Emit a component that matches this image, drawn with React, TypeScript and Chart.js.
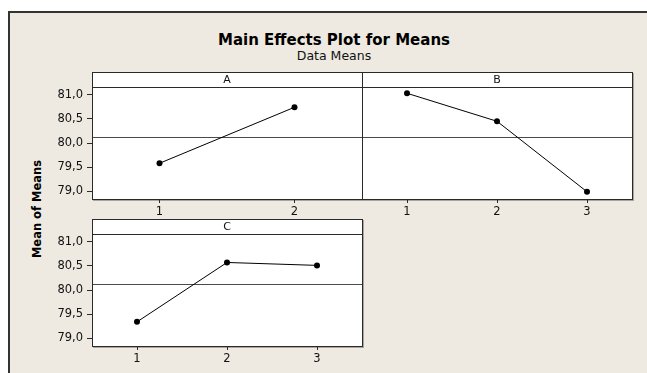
import React, { useEffect, useRef } from 'react';
import { Chart, registerables } from 'chart.js';

Chart.register(...registerables);

// ---------- data ----------
const levelsA = ['1', '2'];
const meansA = [79.58, 80.74];
const levelsB = ['1', '2', '3'];
const meansB = [81.03, 80.45, 78.99];
const levelsC = ['1', '2', '3'];
const meansC = [79.34, 80.57, 80.51];
const grandMean = 80.13;
const yTicks = [79.0, 79.5, 80.0, 80.5, 81.0];
const yMin = 78.84;
const yMax = 81.16;

const titleText = 'Main Effects Plot for Means';
const subtitleText = 'Data Means';
const yTitleText = 'Mean of Means';

// ---------- layout / style ----------
const W = 647;
const H = 373;
const BG = '#EEEAE1';
const FONT = 'DejaVu Sans';
const HEADER_H = 15;
const Y_AXIS_W = 44;
const X_AXIS_H = 22;
const TICK_FONT = 11.5;

type Area = { left: number; top: number; right: number; bottom: number };

const panelPlugin = {
  id: 'panel',
  beforeDraw(chart: any) {
    const { ctx, chartArea: ca } = chart;
    ctx.save();
    ctx.fillStyle = '#A8A59C';
    ctx.fillRect(ca.left + 1, ca.top - HEADER_H + 1, ca.right - ca.left + 1, ca.bottom - ca.top + HEADER_H + 1);
    ctx.fillStyle = '#FFFFFF';
    ctx.fillRect(ca.left, ca.top - HEADER_H, ca.right - ca.left, ca.bottom - ca.top + HEADER_H);
    ctx.restore();
  },
  beforeDatasetsDraw(chart: any, _args: any, opts: any) {
    const { ctx, chartArea: ca } = chart;
    const y = Math.round(chart.scales.y.getPixelForValue(opts.ref)) + 0.5;
    ctx.save();
    ctx.strokeStyle = '#4A4A4A';
    ctx.lineWidth = 1;
    ctx.beginPath();
    ctx.moveTo(ca.left, y);
    ctx.lineTo(ca.right, y);
    ctx.stroke();
    ctx.restore();
  },
  afterDraw(chart: any, _args: any, opts: any) {
    const { ctx, chartArea: ca } = chart;
    ctx.save();
    ctx.strokeStyle = '#2A2A2A';
    ctx.lineWidth = 1;
    const l = Math.round(ca.left) + 0.5;
    const r = Math.round(ca.right) + 0.5;
    const t = Math.round(ca.top) + 0.5;
    const b = Math.round(ca.bottom) + 0.5;
    const ht = Math.round(ca.top - HEADER_H) + 0.5;
    ctx.strokeRect(l, ht, r - l, b - ht);
    ctx.beginPath();
    ctx.moveTo(l, t);
    ctx.lineTo(r, t);
    ctx.stroke();
    ctx.fillStyle = '#111';
    ctx.font = `11px "${FONT}"`;
    ctx.textAlign = 'center';
    ctx.textBaseline = 'middle';
    ctx.fillText(opts.name, (ca.left + ca.right) / 2, ca.top - HEADER_H / 2 + 0.5);
    ctx.restore();
  },
};

function fmt(v: number) {
  return v.toFixed(1).replace('.', ',');
}

function Panel({ name, labels, values, area, showY }: { name: string; labels: string[]; values: number[]; area: Area; showY: boolean }) {
  const ref = useRef<HTMLCanvasElement>(null);
  useEffect(() => {
    const chart = new Chart(ref.current as HTMLCanvasElement, {
      type: 'line',
      data: {
        labels,
        datasets: [
          {
            data: values,
            borderColor: '#000',
            borderWidth: 1,
            backgroundColor: '#000',
            pointBackgroundColor: '#000',
            pointBorderColor: '#000',
            pointBorderWidth: 0,
            pointRadius: 3,
            tension: 0,
            fill: false,
          },
        ],
      },
      options: {
        animation: false,
        responsive: false,
        devicePixelRatio: 1,
        events: [],
        layout: {
          padding: {
            left: area.left - Y_AXIS_W,
            top: area.top,
            right: W - area.right,
            bottom: H - area.bottom - X_AXIS_H,
          },
        },
        plugins: {
          legend: { display: false },
          tooltip: { enabled: false },
          title: { display: false },
          panel: { name, ref: grandMean },
        } as any,
        scales: {
          x: {
            type: 'category',
            offset: true,
            grid: { display: true, drawOnChartArea: false, drawTicks: true, tickLength: 4, color: '#2A2A2A', lineWidth: 1, offset: false },
            border: { display: false },
            ticks: { color: '#111', font: { family: FONT, size: TICK_FONT }, padding: 2, maxRotation: 0 },
            afterFit: (s: any) => {
              s.height = X_AXIS_H;
            },
          },
          y: {
            type: 'linear',
            display: true,
            min: yMin,
            max: yMax,
            grid: { display: showY, drawOnChartArea: false, drawTicks: true, tickLength: 5, color: '#2A2A2A', lineWidth: 1 },
            border: { display: false },
            ticks: { display: showY, color: '#111', font: { family: FONT, size: TICK_FONT }, padding: 4, callback: (v: any) => fmt(Number(v)) },
            afterBuildTicks: (s: any) => {
              s.ticks = yTicks.map((v) => ({ value: v }));
            },
            afterFit: (s: any) => {
              s.width = Y_AXIS_W;
            },
          },
        },
      },
      plugins: [panelPlugin],
    });
    return () => chart.destroy();
  }, []);
  return <canvas ref={ref} width={W} height={H} style={{ position: 'absolute', left: 0, top: 0, width: W, height: H }} />;
}

export default function App() {
  return (
    <div style={{ position: 'fixed', left: 0, top: 0, width: W, height: H, overflow: 'hidden', background: '#fff' }}>
      <div
        style={{
          position: 'absolute',
          left: 8,
          top: 11,
          width: 700,
          height: 420,
          background: BG,
          borderLeft: '2px solid #333',
          borderTop: '2px solid #333',
        }}
      />
      <div style={{ position: 'absolute', left: 234, width: 200, top: 31, font: `bold 15px "${FONT}"`, color: '#000', whiteSpace: 'nowrap', display: 'flex', justifyContent: 'center' }}>
        {titleText}
      </div>
      <div style={{ position: 'absolute', left: 234, width: 200, top: 48, font: `12.5px "${FONT}"`, color: '#111', whiteSpace: 'nowrap', display: 'flex', justifyContent: 'center' }}>
        {subtitleText}
      </div>
      <div
        style={{
          position: 'absolute',
          left: 38 - 60,
          width: 120,
          top: 209 - 8,
          height: 16,
          lineHeight: '16px',
          textAlign: 'center',
          font: `bold 11.5px "${FONT}"`,
          color: '#000',
          transform: 'rotate(-90deg)',
          whiteSpace: 'nowrap',
        }}
      >
        {yTitleText}
      </div>
      <Panel name="A" labels={levelsA} values={meansA} area={{ left: 92, top: 87, right: 362, bottom: 199 }} showY={true} />
      <Panel name="B" labels={levelsB} values={meansB} area={{ left: 362, top: 87, right: 632, bottom: 199 }} showY={false} />
      <Panel name="C" labels={levelsC} values={meansC} area={{ left: 92, top: 234, right: 362, bottom: 346 }} showY={true} />
    </div>
  );
}
